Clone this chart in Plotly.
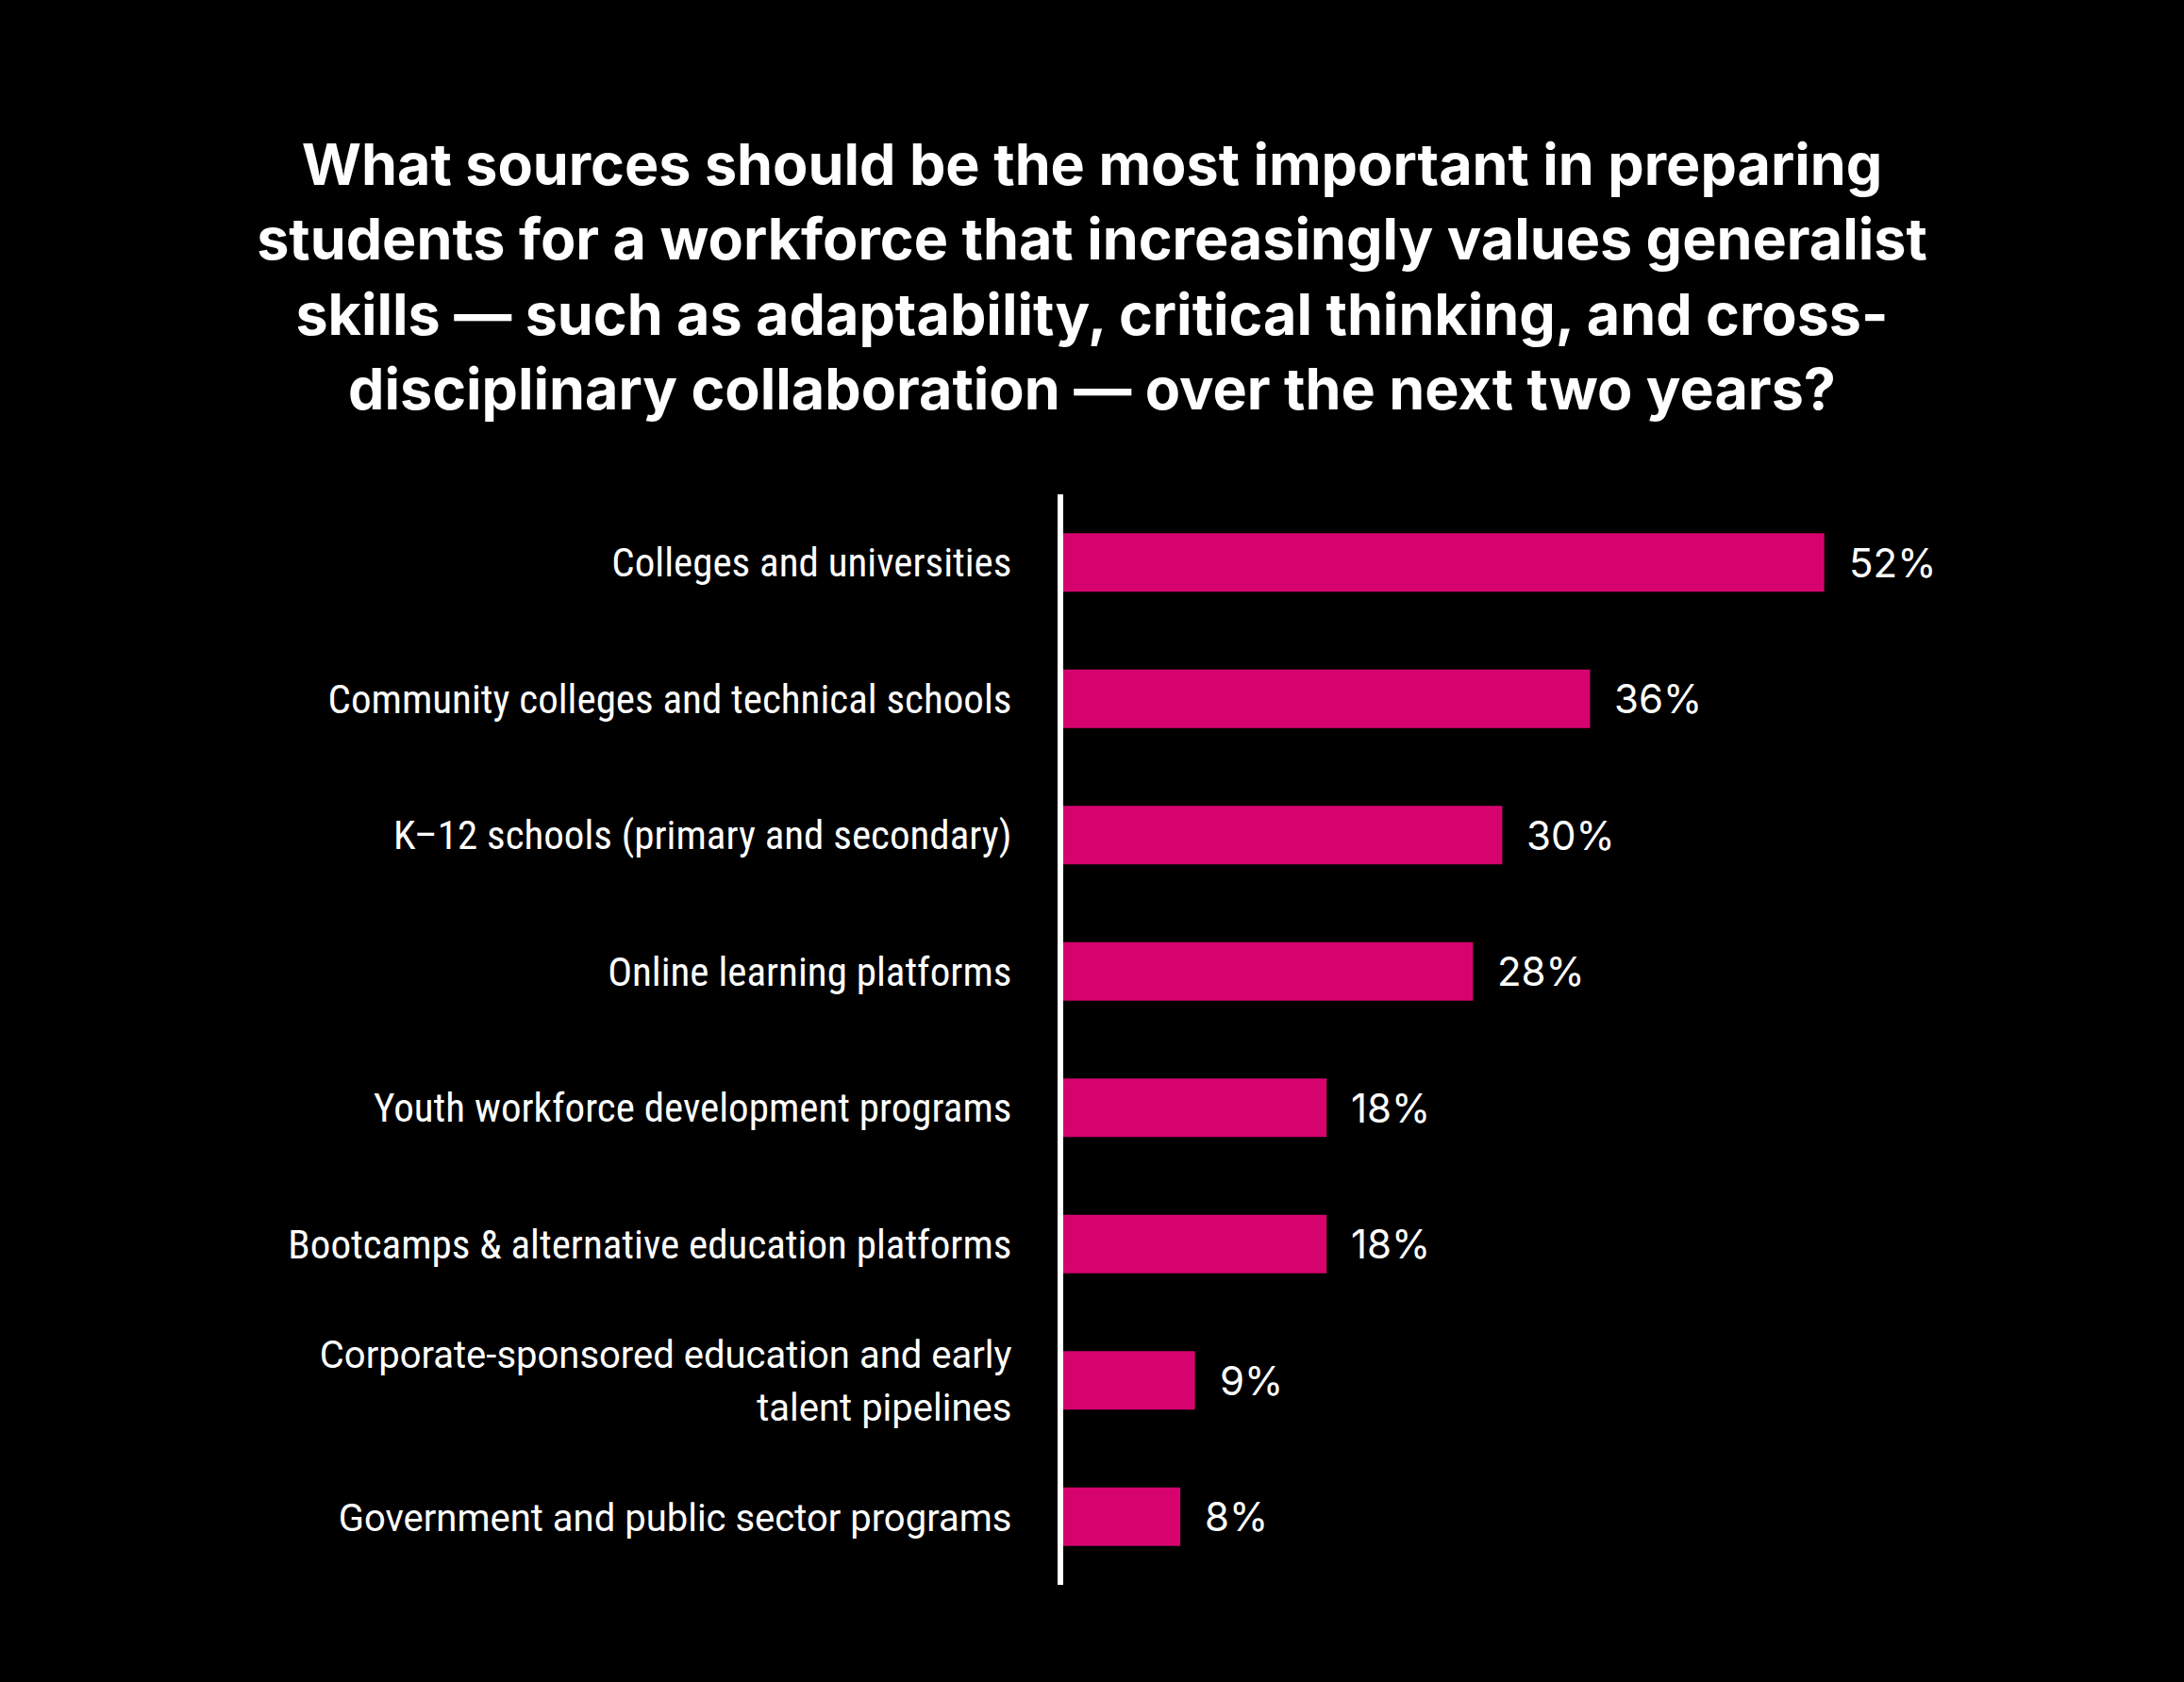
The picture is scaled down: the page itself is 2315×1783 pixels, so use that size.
import plotly.graph_objects as go

categories = [
    "Colleges and universities",
    "Community colleges and technical schools",
    "K\u201312 schools (primary and secondary)",
    "Online learning platforms",
    "Youth workforce development programs",
    "Bootcamps & alternative education platforms",
    "Corporate-sponsored education and early<br>talent pipelines",
    "Government and public sector programs",
]
values = [52, 36, 30, 28, 18, 18, 9, 8]
value_labels = ["52%", "36%", "30%", "28%", "18%", "18%", "9%", "8%"]

title_text = ("What sources should be the most important in preparing<br>"
              "students for a workforce that increasingly values generalist<br>"
              "skills \u2014 such as adaptability, critical thinking, and cross-<br>"
              "disciplinary collaboration \u2014 over the next two years?")

BAR = "#D6036F"
COND = "Liberation Sans Narrow, Roboto Condensed, Roboto, sans-serif"
REG = "Roboto, Inter, sans-serif"

tick_text = []
for i, c in enumerate(categories):
    if i < 6:
        tick_text.append(f'<span style="font-family:{COND}">{c}</span>')
    else:
        tick_text.append(f'<span style="font-family:{REG};font-size:40px">{c}</span>')

fig = go.Figure()
fig.add_trace(go.Bar(
    x=values, y=categories, orientation="h",
    marker=dict(color=BAR, line=dict(width=0)),
    hoverinfo="skip",
))
for c, v, t in zip(categories, values, value_labels):
    fig.add_annotation(x=v, y=c, text=t, showarrow=False, xanchor="left",
                       xshift=24, font=dict(family="Inter, sans-serif", size=42, color="white"))

fig.update_layout(
    width=2315, height=1783,
    paper_bgcolor="black", plot_bgcolor="black",
    margin=dict(l=1127, r=113, t=524, b=103),
    bargap=0.57,
    showlegend=False,
    title=dict(text=title_text, x=0.5, xanchor="center", xref="container",
               yref="container", y=1 - 196 / 1783, yanchor="top",
               font=dict(family="Inter, sans-serif", size=61, color="white", weight="bold")),
    xaxis=dict(range=[0, 69.3], visible=False, fixedrange=True),
    yaxis=dict(autorange="reversed", showline=True, linecolor="white", linewidth=6,
               showgrid=False, zeroline=False, ticks="outside", ticklen=0,
               tickmode="array", tickvals=categories, ticktext=tick_text,
               ticklabelstandoff=40,
               tickfont=dict(family=COND, size=43, color="white")),
)
fig.write_html("out.html")
